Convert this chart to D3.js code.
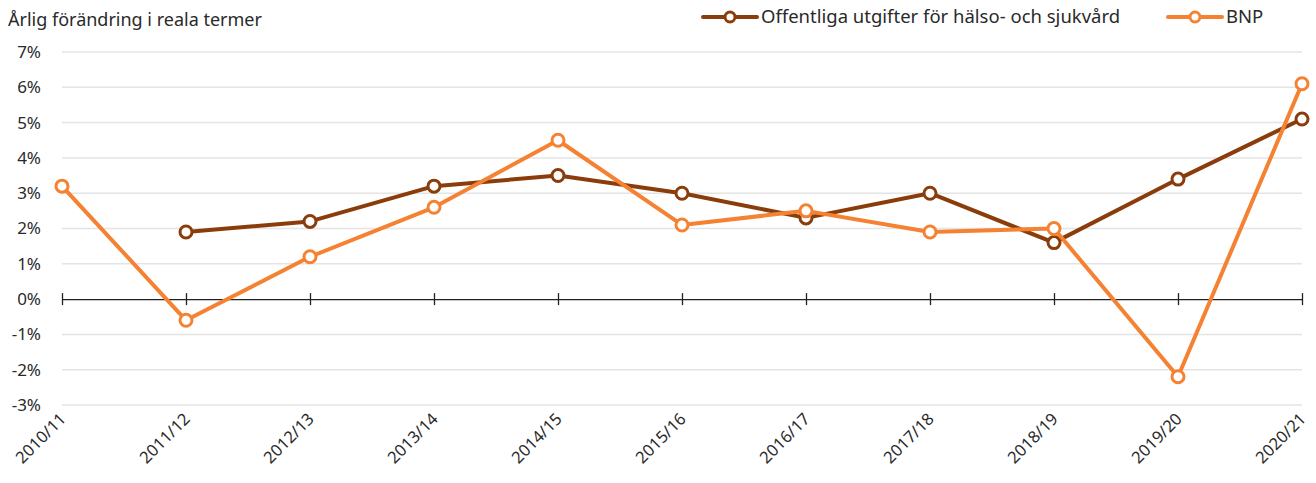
<!DOCTYPE html>
<html>
<head>
<meta charset="utf-8">
<script src="https://cdn.jsdelivr.net/npm/d3@7"></script>
<style>
  body { margin: 0; background: #fff; }
  text { font-family: "Noto Sans", "Open Sans", sans-serif; fill: #2a2a2a; }
</style>
</head>
<body>
<div id="container"></div>
<script>
const w = 1316;
const h = 483;

const years = ['2010/11', '2011/12', '2012/13', '2013/14', '2014/15', '2015/16',
  '2016/17', '2017/18', '2018/19', '2019/20', '2020/21'];
const health = [null, 1.9, 2.2, 3.2, 3.5, 3.0, 2.3, 3.0, 1.6, 3.4, 5.1];
const gdp = [3.2, -0.6, 1.2, 2.6, 4.5, 2.1, 2.5, 1.9, 2.0, -2.2, 6.1];
const yTicks = [-3, -2, -1, 0, 1, 2, 3, 4, 5, 6, 7];
const seriesNames = ['Offentliga utgifter för hälso- och sjukvård', 'BNP'];
const colors = ['#8a3d0b', '#f58232'];

const p = {left: 62, right: 14, top: 52, bottom: 78};

const svg = d3.select('#container')
  .append('svg')
  .attr('width', w)
  .attr('height', h)
  .attr('viewBox', [0, 0, w, h]);

const x = d3.scalePoint()
  .domain(years)
  .range([p.left, w - p.right]);

const y = d3.scaleLinear()
  .domain([-3, 7])
  .range([h - p.bottom, p.top]);

// grid
svg.append('g')
  .selectAll('line')
  .data(yTicks.filter(d => d !== 0))
  .join('line')
    .attr('x1', p.left)
    .attr('x2', w - p.right)
    .attr('y1', d => y(d))
    .attr('y2', d => y(d))
    .attr('stroke', '#e4e4e4')
    .attr('stroke-width', 1.5);

// y labels
svg.append('g')
  .selectAll('text')
  .data(yTicks)
  .join('text')
    .attr('x', 41)
    .attr('y', d => y(d))
    .attr('dy', '0.35em')
    .attr('text-anchor', 'end')
    .attr('font-size', 17)
    .text(d => d + '%');

// zero axis
const xAxis = d3.axisBottom(x)
  .tickSize(0)
  .tickFormat('');

const zero = svg.append('g')
  .attr('transform', 'translate(0,' + y(0) + ')')
  .call(xAxis);
zero.select('.domain').attr('stroke', '#222').attr('stroke-width', 1.3);

zero.selectAll('.tick')
  .append('line')
    .attr('y1', -6)
    .attr('y2', 6)
    .attr('stroke', '#222')
    .attr('stroke-width', 1.3);

// x labels
svg.append('g')
  .selectAll('text')
  .data(years)
  .join('text')
    .attr('transform', d => 'translate(' + (x(d) + 5) + ',' + 420 + ') rotate(-45)')
    .attr('text-anchor', 'end')
    .attr('font-size', 16.5)
    .text(d => d);

// lines
const line = d3.line()
  .defined(d => d.v !== null)
  .x(d => x(d.year))
  .y(d => y(d.v));

[health, gdp].forEach((vals, i) => {
  const data = years.map((year, j) => ({year: year, v: vals[j]}));
  svg.append('path')
    .datum(data)
    .attr('fill', 'none')
    .attr('stroke', colors[i])
    .attr('stroke-width', 4)
    .attr('stroke-linejoin', 'round')
    .attr('d', line);
  svg.append('g')
    .selectAll('circle')
    .data(data.filter(d => d.v !== null))
    .join('circle')
      .attr('cx', d => x(d.year))
      .attr('cy', d => y(d.v))
      .attr('r', 6)
      .attr('fill', '#fff')
      .attr('stroke', colors[i])
      .attr('stroke-width', 3);
});

// title
svg.append('text')
  .attr('x', 8)
  .attr('y', 26)
  .attr('font-size', 18)
  .text('Årlig förändring i reala termer');

// legend
const legendX = [703, 1168];
seriesNames.forEach((name, i) => {
  const g = svg.append('g')
    .attr('transform', 'translate(' + legendX[i] + ',17)');
  g.append('line')
    .attr('x1', 0)
    .attr('x2', 54)
    .attr('stroke', colors[i])
    .attr('stroke-width', 4)
    .attr('stroke-linecap', 'round');
  g.append('circle')
    .attr('cx', 27)
    .attr('r', 5)
    .attr('fill', '#fff')
    .attr('stroke', colors[i])
    .attr('stroke-width', 3);
  g.append('text')
    .attr('x', 58)
    .attr('dy', '0.35em')
    .attr('font-size', 18.5)
    .text(name);
});
</script>
</body>
</html>
